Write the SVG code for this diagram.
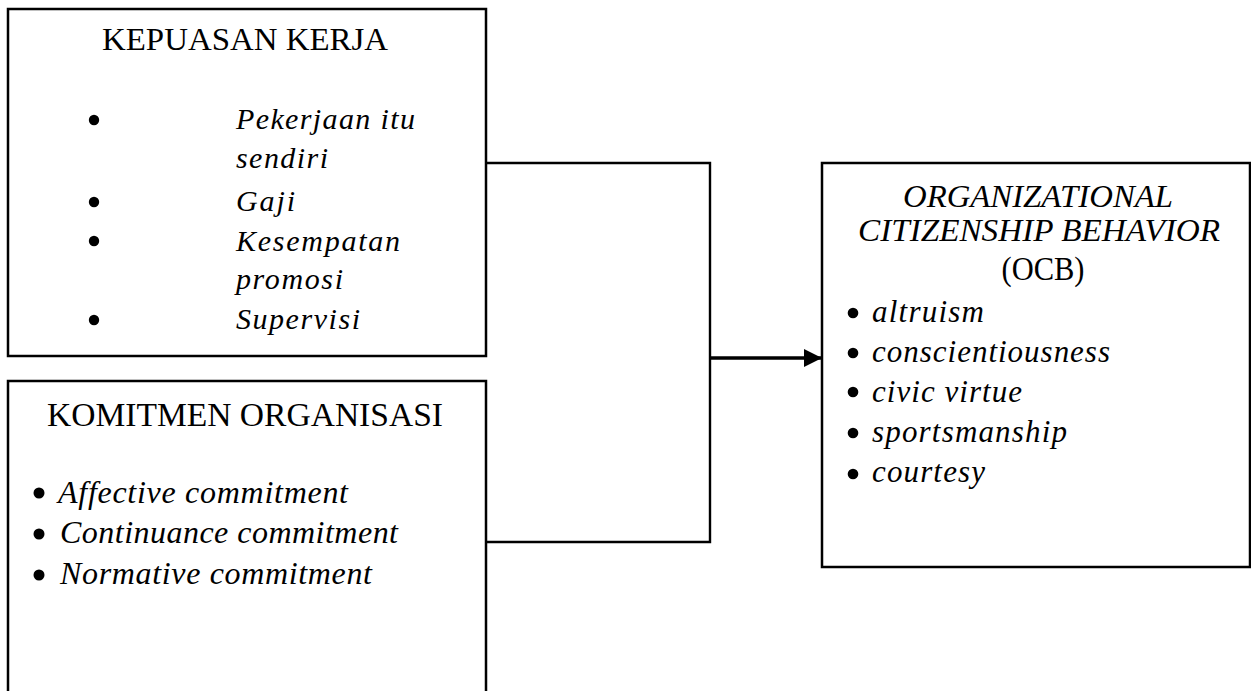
<svg xmlns="http://www.w3.org/2000/svg" width="1251" height="691" viewBox="0 0 1251 691">
<style>
.box{fill:#fff;stroke:#000;stroke-width:2.5}
.t{font-family:"Liberation Serif","Times New Roman",serif;fill:#000}
.h{font-size:32px}
.i{font-style:italic;font-size:30px}
.o{font-style:italic;font-size:31px}
.b{fill:#000}
.c{fill:none;stroke:#000;stroke-width:2.4}
</style>
<defs>
<marker id="ah" markerUnits="userSpaceOnUse" markerWidth="18" markerHeight="20" refX="18" refY="10" orient="auto">
<path d="M0,1 L18,10 L0,19 Z" fill="#000"/>
</marker>
</defs>
<rect width="1251" height="691" fill="#fff"/>
<g id="node-kepuasan">
<rect class="box" x="8" y="9" width="478" height="347"/>
<text class="t h" x="245" y="50" text-anchor="middle" textLength="286" lengthAdjust="spacingAndGlyphs">KEPUASAN KERJA</text>
<circle class="b" cx="94" cy="120" r="5.2"/>
<circle class="b" cx="94" cy="202" r="5.2"/>
<circle class="b" cx="94" cy="241" r="5.2"/>
<circle class="b" cx="94" cy="320" r="5.2"/>
<text class="t i" x="236" y="129" textLength="179" lengthAdjust="spacing">Pekerjaan itu</text>
<text class="t i" x="236" y="168" textLength="92" lengthAdjust="spacing">sendiri</text>
<text class="t i" x="236" y="211" textLength="59" lengthAdjust="spacing">Gaji</text>
<text class="t i" x="236" y="251" textLength="164" lengthAdjust="spacing">Kesempatan</text>
<text class="t i" x="236" y="289" textLength="107" lengthAdjust="spacing">promosi</text>
<text class="t i" x="236" y="329" textLength="124" lengthAdjust="spacing">Supervisi</text>
</g>
<g id="node-komitmen">
<rect class="box" x="8" y="381" width="478" height="330"/>
<text class="t h" x="245" y="426" text-anchor="middle" textLength="396" lengthAdjust="spacingAndGlyphs" style="font-size:33px">KOMITMEN ORGANISASI</text>
<circle class="b" cx="39" cy="493" r="5.5"/>
<circle class="b" cx="39" cy="534" r="5.5"/>
<circle class="b" cx="39" cy="575" r="5.5"/>
<text class="t i" x="58" y="503" textLength="290" lengthAdjust="spacing" style="font-size:32px">Affective commitment</text>
<text class="t i" x="60" y="543" textLength="338" lengthAdjust="spacing" style="font-size:32px">Continuance commitment</text>
<text class="t i" x="60" y="584" textLength="312" lengthAdjust="spacing" style="font-size:32px">Normative commitment</text>
</g>
<g id="node-ocb">
<rect class="box" x="822" y="163" width="428" height="404"/>
<text class="t o" x="1038" y="207" text-anchor="middle" textLength="270" lengthAdjust="spacingAndGlyphs">ORGANIZATIONAL</text>
<text class="t o" x="1039" y="241" text-anchor="middle" textLength="362" lengthAdjust="spacingAndGlyphs">CITIZENSHIP BEHAVIOR</text>
<text class="t" x="1043" y="280" text-anchor="middle" textLength="83" lengthAdjust="spacingAndGlyphs" style="font-size:33px">(OCB)</text>
<circle class="b" cx="853" cy="313" r="5.3"/>
<circle class="b" cx="853" cy="353" r="5.3"/>
<circle class="b" cx="853" cy="392" r="5.3"/>
<circle class="b" cx="853" cy="433" r="5.3"/>
<circle class="b" cx="853" cy="474" r="5.3"/>
<text class="t i" x="872" y="322" textLength="112" lengthAdjust="spacing" style="font-size:31px">altruism</text>
<text class="t i" x="872" y="362" textLength="238" lengthAdjust="spacing" style="font-size:31px">conscientiousness</text>
<text class="t i" x="872" y="402" textLength="150" lengthAdjust="spacing" style="font-size:31px">civic virtue</text>
<text class="t i" x="872" y="442" textLength="195" lengthAdjust="spacing" style="font-size:31px">sportsmanship</text>
<text class="t i" x="872" y="482" textLength="113" lengthAdjust="spacing" style="font-size:31px">courtesy</text>
</g>
<g id="connectors">
<path class="c" d="M486,163 H710 V542 H486"/>
<line x1="710" y1="358" x2="822" y2="358" stroke="#000" stroke-width="3.4" marker-end="url(#ah)"/>
</g>
</svg>
